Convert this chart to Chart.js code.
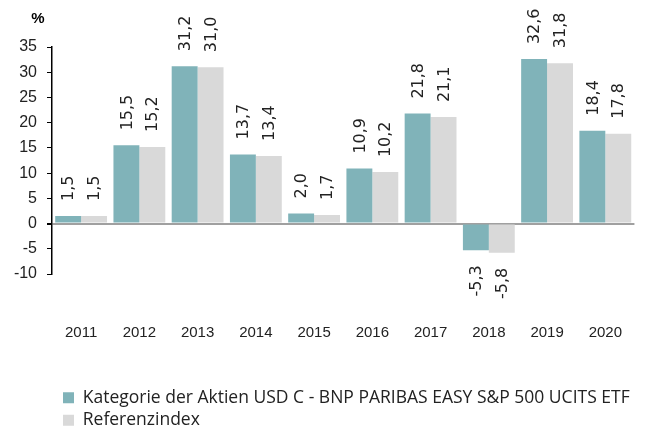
<!DOCTYPE html>
<html>
<head>
<meta charset="utf-8">
<script src="https://cdn.jsdelivr.net/npm/chart.js@4.4.1/dist/chart.umd.min.js"></script>
<style>
  html, body { margin: 0; padding: 0; background: #fff; overflow: hidden; }
  #wrap { position: relative; width: 672px; height: 439px; }
</style>
</head>
<body>
<div id="wrap"><canvas id="perfChart"></canvas></div>
<script>
var years = ['2011', '2012', '2013', '2014', '2015', '2016', '2017', '2018', '2019', '2020'];
var fundValues = [1.5, 15.5, 31.2, 13.7, 2.0, 10.9, 21.8, -5.3, 32.6, 18.4];
var indexValues = [1.5, 15.2, 31.0, 13.4, 1.7, 10.2, 21.1, -5.8, 31.8, 17.8];
var yTicks = [35, 30, 25, 20, 15, 10, 5, 0, -5, -10];
var fundLabel = 'Kategorie der Aktien USD C - BNP PARIBAS EASY S&P 500 UCITS ETF';
var indexLabel = 'Referenzindex';

var axisFont = '"Liberation Sans", Arial, sans-serif';
var valueFont = '"DejaVu Sans", sans-serif';
var legendFont = '"Open Sans", "Noto Sans", sans-serif';

// value labels, written vertically above / below each bar
var barLabels = {
    id: 'barLabels',
    afterLayout: function(chart) {
        // push the legend a bit to the right, under the plot
        chart.legend.left += 6;
    },
    afterDatasetsDraw: function(chart) {
        var ctx = chart.ctx;
        ctx.save();
        ctx.fillStyle = '#222';
        ctx.font = '16px ' + valueFont;
        ctx.textBaseline = 'middle';
        chart.data.datasets.forEach(function(ds, i) {
            chart.getDatasetMeta(i).data.forEach(function(bar, j) {
                var v = ds.data[j];
                var txt = v.toFixed(1).replace('.', ',');
                ctx.save();
                if (v >= 0) {
                    ctx.translate(bar.x, bar.y - 15);
                    ctx.textAlign = 'left';
                } else {
                    ctx.translate(bar.x, bar.y + 15);
                    ctx.textAlign = 'right';
                }
                ctx.rotate(-Math.PI / 2);
                ctx.fillText(txt, 0, 1);
                ctx.restore();
            });
        });
        // unit above the y axis
        ctx.font = 'bold 15px ' + axisFont;
        ctx.textAlign = 'center';
        ctx.fillStyle = '#000';
        ctx.fillText('%', 38, 19);
        ctx.restore();
    }
};

var ctx = document.getElementById('perfChart').getContext('2d');
var perfChart = new Chart(ctx, {
    type: 'bar',
    data: {
        labels: years,
        datasets: [{
            label: fundLabel,
            data: fundValues,
            backgroundColor: '#80b3b9',
            borderWidth: 0
        }, {
            label: indexLabel,
            data: indexValues,
            backgroundColor: '#d9d9d9',
            borderWidth: 0
        }]
    },
    options: {
        responsive: true,
        maintainAspectRatio: false,
        animation: false,
        categoryPercentage: 0.89,
        barPercentage: 1,
        layout: { padding: { top: 47, right: 0, left: 0, bottom: 0 } },
        plugins: {
            tooltip: { enabled: false },
            legend: {
                position: 'bottom',
                align: 'start',
                fullSize: false,
                labels: {
                    boxWidth: 11,
                    boxHeight: 11,
                    padding: 5,
                    color: '#222',
                    font: { family: legendFont, size: 17.5 }
                }
            }
        },
        scales: {
            x: {
                grid: { display: false, drawTicks: false },
                border: { display: false },
                afterFit: function(scale) { scale.height = 110; },
                ticks: {
                    color: '#222',
                    padding: 50,
                    maxRotation: 0,
                    font: { family: axisFont, size: 15 }
                }
            },
            y: {
                min: -10,
                max: 35,
                afterFit: function(scale) { scale.width = 52; },
                afterBuildTicks: function(scale) {
                    scale.ticks = yTicks.map(function(v) { return { value: v }; });
                },
                border: { display: true, color: '#000', width: 1.5 },
                grid: {
                    drawOnChartArea: true,
                    tickLength: 5,
                    tickColor: '#000',
                    color: function(c) { return c.tick && c.tick.value === 0 ? '#a0a0a0' : 'rgba(0,0,0,0)'; },
                    lineWidth: function(c) { return c.tick && c.tick.value === 0 ? 2 : 1; }
                },
                ticks: {
                    color: '#222',
                    padding: 10,
                    font: { family: axisFont, size: 16 }
                }
            }
        }
    },
    plugins: [barLabels]
});
</script>
</body>
</html>
